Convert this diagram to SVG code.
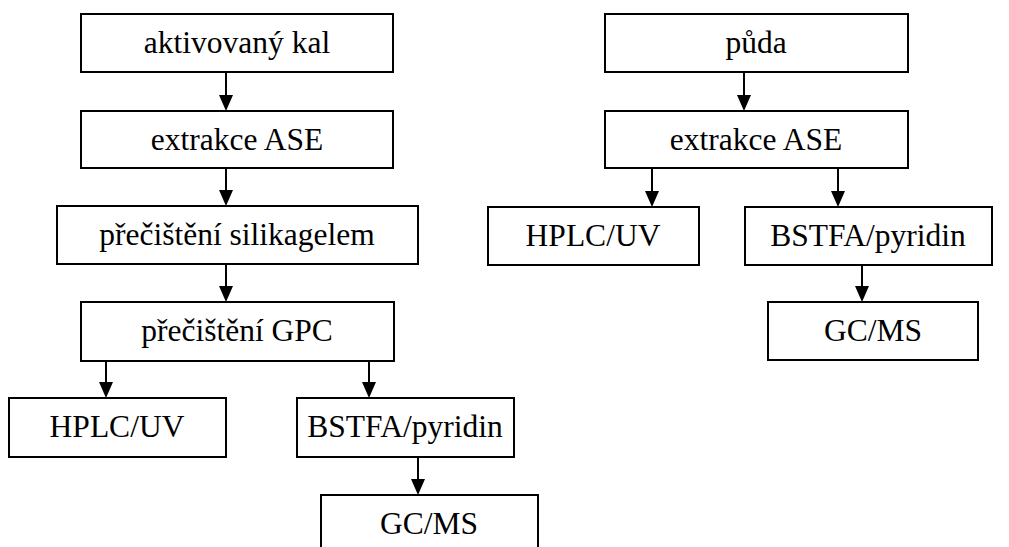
<svg xmlns="http://www.w3.org/2000/svg" width="1009" height="547" viewBox="0 0 1009 547">
<style>
rect.b{fill:#fff;stroke:#000;stroke-width:2}
text{font-family:"Liberation Serif","Times New Roman",serif;font-size:31.5px;fill:#000;text-anchor:middle}
line.k{stroke:#000;stroke-width:2}
polygon.h{fill:#000}
</style>
<rect width="1009" height="547" fill="#fff"/>
<g id="connectors">
<line class="k" x1="226" y1="72" x2="226" y2="100"/><polygon class="h" points="219,95 233,95 226,111"/>
<line class="k" x1="226" y1="168" x2="226" y2="195"/><polygon class="h" points="219,190 233,190 226,206"/>
<line class="k" x1="226" y1="264" x2="226" y2="291"/><polygon class="h" points="219,286 233,286 226,302"/>
<line class="k" x1="106" y1="361" x2="106" y2="387"/><polygon class="h" points="99,382 113,382 106,398"/>
<line class="k" x1="369" y1="361" x2="369" y2="387"/><polygon class="h" points="362,382 376,382 369,398"/>
<line class="k" x1="418" y1="457" x2="418" y2="484"/><polygon class="h" points="411,479 425,479 418,495"/>
<line class="k" x1="744" y1="72" x2="744" y2="100"/><polygon class="h" points="737,95 751,95 744,111"/>
<line class="k" x1="652" y1="168" x2="652" y2="196"/><polygon class="h" points="645,191 659,191 652,207"/>
<line class="k" x1="838" y1="168" x2="838" y2="196"/><polygon class="h" points="831,191 845,191 838,207"/>
<line class="k" x1="862" y1="265" x2="862" y2="291"/><polygon class="h" points="855,286 869,286 862,302"/>
</g>
<g id="n1"><rect class="b" x="81" y="14" width="312" height="58"/><text x="237" y="53">aktivovaný kal</text></g>
<g id="n2"><rect class="b" x="81" y="111" width="312" height="57"/><text x="237" y="150">extrakce ASE</text></g>
<g id="n3"><rect class="b" x="57" y="206" width="361" height="58"/><text x="237" y="245">přečištění silikagelem</text></g>
<g id="n4"><rect class="b" x="81" y="302" width="313" height="59"/><text x="237" y="341">přečištění GPC</text></g>
<g id="n5"><rect class="b" x="9" y="398" width="217" height="59"/><text x="117" y="437">HPLC/UV</text></g>
<g id="n6"><rect class="b" x="297" y="398" width="217" height="59"/><text x="405" y="437">BSTFA/pyridin</text></g>
<g id="n7"><rect class="b" x="321" y="495" width="217" height="60"/><text x="429" y="534">GC/MS</text></g>
<g id="m1"><rect class="b" x="605" y="14" width="303" height="58"/><text x="756" y="53">půda</text></g>
<g id="m2"><rect class="b" x="605" y="111" width="303" height="57"/><text x="756" y="150">extrakce ASE</text></g>
<g id="m3"><rect class="b" x="488" y="207" width="211" height="58"/><text x="593" y="246">HPLC/UV</text></g>
<g id="m4"><rect class="b" x="745" y="207" width="247" height="58"/><text x="868" y="246">BSTFA/pyridin</text></g>
<g id="m5"><rect class="b" x="768" y="302" width="210" height="58"/><text x="873" y="341">GC/MS</text></g>
</svg>
